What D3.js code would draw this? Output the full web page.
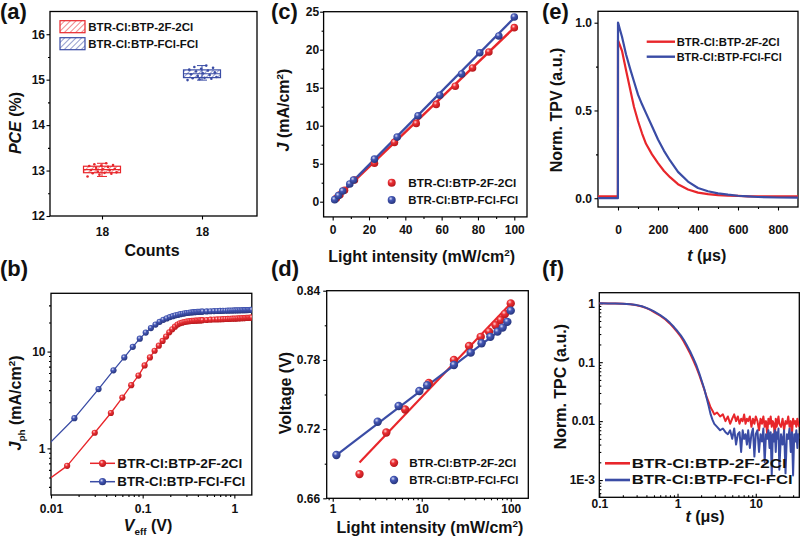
<!DOCTYPE html>
<html>
<meta charset="utf-8">
<head>
<script src="https://d3js.org/d3.v7.min.js"></script>
<style>
body { margin:0; background:#fff; }
text { font-family:"Liberation Sans", Arial, sans-serif; font-weight:bold; fill:#111; }
</style>
</head>
<body>
<script>
const RED = '#e8262b', BLUE = '#3a4ca5';
const names = ['BTR-Cl:BTP-2F-2Cl', 'BTR-Cl:BTP-FCl-FCl'];

// (a) PCE statistics, 18 devices each
const pceCounts = ['18', '18'];
const pceRed  = [12.87, 12.91, 12.93, 12.94, 12.95, 12.96, 12.98, 13.00, 13.01, 13.03, 13.04, 13.06, 13.08, 13.10, 13.11, 13.12, 13.14, 13.16];
const pceBlue = [14.99, 15.01, 15.02, 15.03, 15.04, 15.06, 15.08, 15.10, 15.12, 15.14, 15.16, 15.18, 15.20, 15.22, 15.24, 15.26, 15.28, 15.31];

// (b) Jph vs Veff
const jphRedV = [0.006, 0.015, 0.030, 0.045, 0.060, 0.075, 0.090, 0.105, 0.120, 0.135, 0.150, 0.165, 0.180, 0.195, 0.210, 0.225, 0.240, 0.255, 0.270, 0.285, 0.300, 0.315, 0.330, 0.345, 0.360, 0.375, 0.390, 0.405, 0.420, 0.435, 0.450,
  0.50, 0.55, 0.60, 0.65, 0.70, 0.75, 0.80, 0.85, 0.90, 0.95, 1.00, 1.05, 1.10, 1.15, 1.20, 1.25, 1.30, 1.35, 1.40, 1.45, 1.50, 1.55];
const jphRedJ = [0.35, 0.66, 1.45, 2.32, 3.35, 4.5, 5.65, 7.2, 8.7, 10.2, 11.5, 12.9, 14.3, 15.8, 17.0, 18.1, 19.0, 19.6, 19.9, 20.2, 20.4, 20.55, 20.65, 20.75, 20.8, 20.85, 20.9, 20.95, 21.0, 21.05, 21.1,
  21.2, 21.35, 21.45, 21.5, 21.55, 21.6, 21.7, 21.75, 21.8, 21.85, 21.9, 21.95, 22.0, 22.05, 22.1, 22.15, 22.2, 22.25, 22.3, 22.35, 22.4, 22.45];
const jphBlueV = [0.003, 0.018, 0.033, 0.048, 0.063, 0.078, 0.093, 0.108, 0.123, 0.138, 0.153, 0.168, 0.183, 0.198, 0.213, 0.228, 0.243, 0.258, 0.273, 0.288, 0.303, 0.318, 0.333, 0.348, 0.363, 0.378, 0.393, 0.408, 0.423, 0.438, 0.453,
  0.50, 0.55, 0.60, 0.65, 0.70, 0.75, 0.80, 0.85, 0.90, 0.95, 1.00, 1.05, 1.10, 1.15, 1.20, 1.25, 1.30, 1.35, 1.40, 1.45, 1.50, 1.55];
const jphBlueJ = [0.37, 2.05, 4.1, 6.4, 8.7, 11.2, 13.6, 15.7, 17.5, 19.0, 20.3, 21.3, 22.0, 22.7, 23.2, 23.7, 24.0, 24.35, 24.6, 24.85, 25.05, 25.2, 25.35, 25.45, 25.55, 25.62, 25.7, 25.75, 25.8, 25.85, 25.9,
  26.0, 26.1, 26.2, 26.25, 26.3, 26.35, 26.4, 26.45, 26.5, 26.55, 26.6, 26.63, 26.66, 26.7, 26.73, 26.76, 26.8, 26.83, 26.86, 26.9, 26.93, 26.95];

// (c) Jsc and (d) Voc vs light intensity
const intRed  = [2.0, 4.0, 6.5, 12, 23, 34, 46, 57, 67.5, 77, 86, 100];
const jscRed  = [0.45, 0.9, 1.5, 2.85, 5.05, 7.8, 10.3, 12.8, 15.2, 17.6, 19.7, 22.9];
const vocRed  = [0.681, 0.717, 0.737, 0.760, 0.780, 0.792, 0.800, 0.8045, 0.810, 0.8146, 0.8198, 0.829];
const intBlue = [1.1, 3.2, 5.5, 9.4, 11.5, 23, 35.5, 47, 59, 71, 81, 91.5, 100];
const jscBlue = [0.27, 0.8, 1.4, 2.33, 2.85, 5.6, 8.5, 11.3, 14.0, 16.8, 19.6, 21.8, 24.3];
const vocBlue = [0.6975, 0.7264, 0.740, 0.753, 0.758, 0.7756, 0.7863, 0.7944, 0.800, 0.8045, 0.808, 0.813, 0.8227];
const jscFitRed = [[1.5, 0.34], [100, 22.9]];
const jscFitBlue = [[1.1, 0.27], [100, 24.2]];
const vocFitRed = [[2, 0.691], [100, 0.829]];
const vocFitBlue = [[1.1, 0.6975], [100, 0.8129]];

// (e) TPV
const tpvTime = [-100, -50, -5, -0.5, 0, 3, 10, 20, 40, 60, 80, 100, 120, 140, 170, 200, 230, 260, 300, 350, 400, 450, 500, 550, 600, 650, 700, 800, 900];
const tpvRed  = [0.01, 0.01, 0.01, 0.01, 0.90, 0.89, 0.87, 0.84, 0.73, 0.625, 0.52, 0.44, 0.37, 0.31, 0.25, 0.2, 0.155, 0.12, 0.08, 0.05, 0.032, 0.023, 0.018, 0.015, 0.013, 0.011, 0.01, 0.01, 0.01];
const tpvBlue = [0, 0, 0, 0, 1.0, 0.99, 0.96, 0.92, 0.82, 0.74, 0.665, 0.59, 0.535, 0.485, 0.41, 0.335, 0.27, 0.215, 0.15, 0.095, 0.058, 0.04, 0.028, 0.02, 0.014, 0.01, 0.007, 0.004, 0.003];

// (f) TPC
const tpcTime = [0.1, 0.13, 0.16, 0.2, 0.25, 0.3, 0.35, 0.4, 0.45, 0.5, 0.6, 0.7, 0.8, 0.9, 1.0, 1.1, 1.2, 1.3, 1.45, 1.6, 1.75, 1.9, 2.05, 2.2, 2.35, 2.5, 2.65, 2.8, 2.95,
  3.2, 3.5, 3.8, 4.1, 4.4, 4.7, 5.0, 5.3, 5.6, 5.9, 6.2, 6.5, 6.8, 7.1, 7.4, 7.7, 8.0,
  8.4, 8.8, 9.2, 9.6, 10.0,
  10.5, 11, 11.5, 12, 12.5, 13, 13.5, 14, 14.5, 15, 15.5, 16, 16.5, 17, 17.5, 18, 18.5, 19, 19.5, 20,
  21, 22, 23, 24, 25, 26, 27, 28, 29, 30, 31, 32, 33, 34, 35, 36];
const tpcRed = [1.0, 0.995, 0.99, 0.978, 0.958, 0.925, 0.88, 0.825, 0.77, 0.71, 0.615, 0.53, 0.45, 0.38, 0.32, 0.27, 0.225, 0.185, 0.14, 0.105, 0.08, 0.06, 0.045, 0.034, 0.026, 0.021, 0.017, 0.015, 0.013,
  0.014, 0.012, 0.013, 0.010, 0.012, 0.009, 0.011, 0.013, 0.010, 0.012, 0.009, 0.011, 0.010, 0.013, 0.009, 0.011, 0.010,
  0.012, 0.008, 0.011, 0.009, 0.012,
  0.010, 0.007, 0.011, 0.009, 0.012, 0.008, 0.010, 0.006, 0.011, 0.009, 0.012, 0.008, 0.010, 0.009, 0.005, 0.011, 0.008, 0.010, 0.012, 0.009,
  0.008, 0.011, 0.007, 0.010, 0.009, 0.012, 0.008, 0.010, 0.006, 0.011, 0.009, 0.010, 0.008, 0.011, 0.009, 0.008];
const tpcBlue = [1.0, 0.995, 0.99, 0.98, 0.962, 0.93, 0.89, 0.835, 0.78, 0.725, 0.63, 0.545, 0.465, 0.395, 0.335, 0.285, 0.24, 0.2, 0.152, 0.115, 0.087, 0.064, 0.047, 0.035, 0.025, 0.018, 0.013, 0.0105, 0.009,
  0.008, 0.007, 0.0075, 0.0065, 0.006, 0.007, 0.005, 0.0075, 0.004, 0.006, 0.0065, 0.003, 0.007, 0.005, 0.006, 0.004, 0.007,
  0.0035, 0.006, 0.0075, 0.0025, 0.006,
  0.007, 0.003, 0.006, 0.0045, 0.0075, 0.002, 0.006, 0.005, 0.007, 0.0035, 0.0065, 0.0012, 0.006, 0.0045, 0.007, 0.003, 0.0065, 0.005, 0.0075, 0.0015,
  0.006, 0.004, 0.007, 0.0013, 0.006, 0.005, 0.0075, 0.003, 0.0065, 0.0012, 0.006, 0.0045, 0.007, 0.0035, 0.006, 0.005];

// tick labels
const bXTicks = [0.01, 0.1, 1], bXLabels = ['0.01', '0.1', '1'];
const bYTicks = [1, 10], bYLabels = ['1', '10'];
const dXTicks = [1, 10, 100], dXLabels = ['1', '10', '100'];
const fXTicks = [0.1, 1, 10], fXLabels = ['0.1', '1', '10'];
const fYTicks = [0.001, 0.01, 0.1, 1], fYLabels = ['1E-3', '0.01', '0.1', '1'];

const zip = (a, b) => a.map((v, i) => [v, b[i]]);

var svg = d3.select('body').append('svg').attr('width', 800).attr('height', 542);
var defs = svg.append('defs');

function ballGrad(id, light, mid, dark) {
  const g = defs.append('radialGradient').attr('id', id).attr('cx', 0.38).attr('cy', 0.33).attr('r', 0.7);
  g.append('stop').attr('offset', 0).attr('stop-color', light);
  g.append('stop').attr('offset', 0.35).attr('stop-color', mid);
  g.append('stop').attr('offset', 1).attr('stop-color', dark);
}
ballGrad('ballR', '#ffd6d6', '#ec3035', '#b3161a');
ballGrad('ballB', '#d8dcf5', '#4457b5', '#25337a');

function hatch(id, c) {
  defs.append('pattern').attr('id', id).attr('patternUnits', 'userSpaceOnUse')
    .attr('width', 4).attr('height', 4).attr('patternTransform', 'rotate(45)')
    .append('line').attr('x1', 0).attr('y1', 0).attr('x2', 0).attr('y2', 4)
    .attr('stroke', c).attr('stroke-width', 1.1);
}
hatch('hatchR', RED);
hatch('hatchB', BLUE);

function logMinor(lo, hi) {
  const out = [];
  for (let e = Math.floor(Math.log10(lo)); e <= Math.ceil(Math.log10(hi)); e++)
    for (let k = 2; k <= 9; k++) {
      const v = k * Math.pow(10, e);
      if (v > lo && v < hi) out.push(v);
    }
  return out;
}

var clipN = 0;
function axisBox(o) {
  const g = svg.append('g');
  const [x0, x1] = o.x.range(), [y0, y1] = o.y.range();
  const s = o.inward ? -3.5 : 3.5, m = o.inward ? -2 : 2;
  g.append('g').attr('transform', `translate(0,${y0})`)
    .call(d3.axisBottom(o.x).tickValues(o.xMinor).tickSize(m).tickFormat(''));
  g.append('g').attr('transform', `translate(0,${y0})`)
    .call(d3.axisBottom(o.x).tickValues(o.xMajor).tickSize(s).tickPadding(o.padX).tickFormat(o.xFmt));
  g.append('g').attr('transform', `translate(${x0},0)`)
    .call(d3.axisLeft(o.y).tickValues(o.yMinor).tickSize(m).tickFormat(''));
  g.append('g').attr('transform', `translate(${x0},0)`)
    .call(d3.axisLeft(o.y).tickValues(o.yMajor).tickSize(s).tickPadding(o.padY).tickFormat(o.yFmt));
  g.selectAll('.domain').remove();
  g.selectAll('.tick line').attr('stroke-width', 1.1);
  g.selectAll('text').attr('font-size', 12);
  g.append('rect').attr('x', x0).attr('y', y1).attr('width', x1 - x0).attr('height', y0 - y1)
    .attr('fill', 'none').attr('stroke', '#000').attr('stroke-width', 1.3);
  const id = 'clip' + (clipN++);
  defs.append('clipPath').attr('id', id).append('rect')
    .attr('x', x0).attr('y', y1).attr('width', x1 - x0).attr('height', y0 - y1);
  return svg.append('g').attr('clip-path', `url(#${id})`);
}

function rich(sel, parts, size) {
  let shift = 0;
  parts.forEach(p => {
    const ts = sel.append('tspan').text(p.t);
    if (p.it) ts.attr('font-style', 'italic');
    const target = p.sup ? -0.38 * size : p.sub ? 0.28 * size : 0;
    if (target !== shift) { ts.attr('dy', target - shift); shift = target; }
    if (p.sup || p.sub) ts.attr('font-size', size * 0.62);
  });
}

function title(x, y, parts, rot, size) {
  size = size || 16;
  const t = svg.append('text').attr('text-anchor', 'middle').attr('font-size', size)
    .attr('transform', `translate(${x},${y})` + (rot ? ' rotate(-90)' : ''))
    .attr('y', size * 0.35);
  rich(t, parts, size);
}

function panelLabel(x, y, txt) {
  svg.append('text').attr('x', x).attr('y', y).attr('font-size', 22).text(txt);
}

function legendText(x, y, txt, len, size) {
  svg.append('text').attr('x', x).attr('y', y).attr('dy', '0.36em').attr('font-size', size)
    .attr('textLength', len).attr('lengthAdjust', 'spacingAndGlyphs').text(txt);
}

function balls(g, data, xs, ys, grad, r) {
  g.selectAll(null).data(data).join('circle')
    .attr('cx', d => xs(d[0])).attr('cy', d => ys(d[1])).attr('r', r)
    .attr('fill', `url(#${grad})`);
}

function path(g, data, xs, ys, color, w) {
  g.append('path').datum(data)
    .attr('d', d3.line().x(d => xs(d[0])).y(d => ys(d[1])))
    .attr('fill', 'none').attr('stroke', color).attr('stroke-width', w).attr('stroke-linejoin', 'round');
}

const cm2 = [{t: ' (mA/cm'}, {t: '2', sup: true}, {t: ')'}];
const mw2 = [{t: 'Light intensity (mW/cm'}, {t: '2', sup: true}, {t: ')'}];

// ---------- (a)
const xa = d3.scaleLinear().domain([0.48, 2.55]).range([50, 257]);
const ya = d3.scaleLinear().domain([12, 16.5]).range([216, 11.5]);
axisBox({x: xa, y: ya, xMajor: [1, 2], xMinor: [], xFmt: (d, i) => pceCounts[i], padX: 7.9,
  yMajor: [12, 13, 14, 15, 16], yMinor: [12.5, 13.5, 14.5, 15.5], yFmt: d3.format('d'), padY: 1.5});
[pceRed, pceBlue].forEach((vals, i) => {
  const s = vals.slice().sort(d3.ascending);
  const q1 = d3.quantile(s, 0.25), q3 = d3.quantile(s, 0.75), med = d3.median(s);
  const cx = xa(i + 1), c = i ? BLUE : RED, hw = 18.5;
  const g = svg.append('g').attr('stroke', c).attr('stroke-width', 1);
  g.append('line').attr('x1', cx).attr('x2', cx).attr('y1', ya(s[0])).attr('y2', ya(s[s.length - 1]));
  [s[0], s[s.length - 1]].forEach(v => g.append('line').attr('x1', cx - 5).attr('x2', cx + 5).attr('y1', ya(v)).attr('y2', ya(v)));
  g.append('rect').attr('x', cx - hw).attr('width', 2 * hw).attr('y', ya(q3)).attr('height', ya(q1) - ya(q3))
    .attr('fill', i ? 'url(#hatchB)' : 'url(#hatchR)').attr('stroke-width', 1.2);
  g.append('line').attr('x1', cx - hw).attr('x2', cx + hw).attr('y1', ya(med)).attr('y2', ya(med)).attr('stroke-width', 1.2);
  svg.append('g').selectAll(null).data(vals).join('circle')
    .attr('cx', (d, k) => cx + ((k * 7) % 18 - 8.5) * 1.7).attr('cy', d => ya(d)).attr('r', 1.3)
    .attr('fill', c);
});
[0, 1].forEach(i => {
  svg.append('rect').attr('x', 60).attr('y', 20.7 + i * 17).attr('width', 25).attr('height', 12)
    .attr('fill', i ? 'url(#hatchB)' : 'url(#hatchR)').attr('stroke', i ? BLUE : RED).attr('stroke-width', 1.2);
});
legendText(88.3, 26.7, names[0], 105, 11.5);
legendText(88.3, 43.7, names[1], 110, 11.5);
title(15.7, 123, [{t: 'PCE', it: true}, {t: ' (%)'}], true);
title(152, 250, [{t: 'Counts'}], false);
panelLabel(0, 19, '(a)');

// ---------- (c)
const xc = d3.scaleLinear().domain([-5, 107]).range([323.6, 527]);
const yc = d3.scaleLinear().domain([-2, 25]).range([216.9, 11.7]);
const gc = axisBox({x: xc, y: yc, xMajor: [0, 20, 40, 60, 80, 100], xMinor: [10, 30, 50, 70, 90], xFmt: d3.format('d'), padX: 5.3,
  yMajor: [0, 5, 10, 15, 20, 25], yMinor: [2.5, 7.5, 12.5, 17.5, 22.5], yFmt: d3.format('d'), padY: 1});
path(gc, jscFitRed, xc, yc, RED, 2.4);
path(gc, jscFitBlue, xc, yc, BLUE, 2.4);
balls(gc, zip(intRed, jscRed), xc, yc, 'ballR', 3.8);
balls(gc, zip(intBlue, jscBlue), xc, yc, 'ballB', 3.8);
svg.append('circle').attr('cx', 391.7).attr('cy', 182.7).attr('r', 4).attr('fill', 'url(#ballR)');
svg.append('circle').attr('cx', 391.7).attr('cy', 200).attr('r', 4).attr('fill', 'url(#ballB)');
legendText(408.3, 182.7, names[0], 108, 11.5);
legendText(408.3, 200, names[1], 110, 11.5);
title(283.3, 110, [{t: 'J', it: true}].concat(cm2), true);
title(421.7, 256.7, mw2, false);
panelLabel(271, 19, '(c)');

// ---------- (e)
const xe = d3.scaleLinear().domain([-100, 900]).range([598, 798]);
const ye = d3.scaleLinear().domain([-0.05, 1.065]).range([207, 11.3]);
const ge = axisBox({x: xe, y: ye, xMajor: [0, 200, 400, 600, 800], xMinor: [100, 300, 500, 700], xFmt: d3.format('d'), padX: 15.2,
  yMajor: [0, 0.5, 1], yMinor: [0.25, 0.75], yFmt: d3.format('.1f'), padY: 2.5});
path(ge, zip(tpvTime, tpvRed), xe, ye, RED, 2.2);
path(ge, zip(tpvTime, tpvBlue), xe, ye, BLUE, 2.2);
[[41.7, RED], [56.7, BLUE]].forEach(([y, c]) =>
  svg.append('line').attr('x1', 646.7).attr('x2', 675).attr('y1', y).attr('y2', y).attr('stroke', c).attr('stroke-width', 2.4));
legendText(676.7, 41.7, names[0], 103, 11.5);
legendText(676.7, 56.7, names[1], 105, 11.5);
title(556.7, 110, [{t: 'Norm. TPV (a.u.)'}], true);
title(706.7, 255, [{t: 't', it: true}, {t: ' (\u03bcs)'}], false);
panelLabel(542, 19, '(e)');

// ---------- (b)
const xb = d3.scaleLog().domain([0.01, 1.55]).range([51, 251.8]);
const yb = d3.scaleLog().domain([0.33, 40]).range([495, 293.3]);
const gb = axisBox({x: xb, y: yb, xMajor: bXTicks, xMinor: logMinor(0.01, 1.55), xFmt: (d, i) => bXLabels[i], padX: 5.5,
  yMajor: bYTicks, yMinor: logMinor(0.33, 40), yFmt: (d, i) => bYLabels[i], padY: 2});
path(gb, zip(jphRedV, jphRedJ), xb, yb, RED, 1.3);
path(gb, zip(jphBlueV, jphBlueJ), xb, yb, BLUE, 1.3);
balls(gb, zip(jphRedV, jphRedJ), xb, yb, 'ballR', 3.1);
balls(gb, zip(jphBlueV, jphBlueJ), xb, yb, 'ballB', 3.1);
[[463.3, RED, 'ballR'], [481.7, BLUE, 'ballB']].forEach(([y, c, gr]) => {
  svg.append('line').attr('x1', 90).attr('x2', 115).attr('y1', y).attr('y2', y).attr('stroke', c).attr('stroke-width', 1.5);
  svg.append('circle').attr('cx', 102.5).attr('cy', y).attr('r', 3.6).attr('fill', `url(#${gr})`);
});
legendText(117.3, 463.3, names[0], 125, 13);
legendText(117.3, 481.7, names[1], 128, 13);
title(15, 403, [{t: 'J', it: true}, {t: 'ph', sub: true}].concat(cm2), true);
title(148, 525, [{t: 'V', it: true}, {t: 'eff', sub: true}, {t: ' (V)'}], false);
panelLabel(0, 276, '(b)');

// ---------- (d)
const xd = d3.scaleLog().domain([0.856, 157.5]).range([326.7, 528.3]);
const yd = d3.scaleLinear().domain([0.66, 0.84]).range([498.3, 290.7]);
const gd = axisBox({x: xd, y: yd, xMajor: dXTicks, xMinor: logMinor(0.856, 157.5), xFmt: (d, i) => dXLabels[i], padX: 2.9,
  yMajor: [0.66, 0.72, 0.78, 0.84], yMinor: [0.69, 0.75, 0.81], yFmt: d3.format('.2f'), padY: 3});
path(gd, vocFitRed, xd, yd, RED, 2.2);
path(gd, vocFitBlue, xd, yd, BLUE, 2.2);
balls(gd, zip(intRed, vocRed), xd, yd, 'ballR', 4.2);
balls(gd, zip(intBlue, vocBlue), xd, yd, 'ballB', 4.2);
svg.append('circle').attr('cx', 394).attr('cy', 462.7).attr('r', 4.2).attr('fill', 'url(#ballR)');
svg.append('circle').attr('cx', 394).attr('cy', 480).attr('r', 4.2).attr('fill', 'url(#ballB)');
legendText(409.3, 462.7, names[0], 107, 11.5);
legendText(409.3, 480, names[1], 109, 11.5);
title(285, 393, [{t: 'Voltage (V)'}], true);
title(430, 527, mw2, false);
panelLabel(271, 276, '(d)');

// ---------- (f)
const xf = d3.scaleLog().domain([0.1, 36]).range([599.3, 799.3]);
const yf = d3.scaleLog().domain([5.1e-4, 1.51]).range([497.3, 292.7]);
const gf = axisBox({x: xf, y: yf, xMajor: fXTicks, xMinor: logMinor(0.1, 36), xFmt: (d, i) => fXLabels[i], padX: 1.7,
  yMajor: fYTicks, yMinor: logMinor(5.1e-4, 1.51), yFmt: (d, i) => fYLabels[i], padY: 4.3, inward: true});
path(gf, zip(tpcTime, tpcRed), xf, yf, RED, 2);
path(gf, zip(tpcTime, tpcBlue), xf, yf, BLUE, 2);
[[463.3, RED], [480, BLUE]].forEach(([y, c]) =>
  svg.append('line').attr('x1', 605).attr('x2', 630).attr('y1', y).attr('y2', y).attr('stroke', c).attr('stroke-width', 2.6));
legendText(631.7, 463.3, names[0], 155, 12);
legendText(631.7, 480, names[1], 161, 12);
title(560, 386.7, [{t: 'Norm. TPC (a.u.)'}], true);
title(705, 516.7, [{t: 't', it: true}, {t: ' (\u03bcs)'}], false);
panelLabel(542, 276, '(f)');
</script>
</body>
</html>
